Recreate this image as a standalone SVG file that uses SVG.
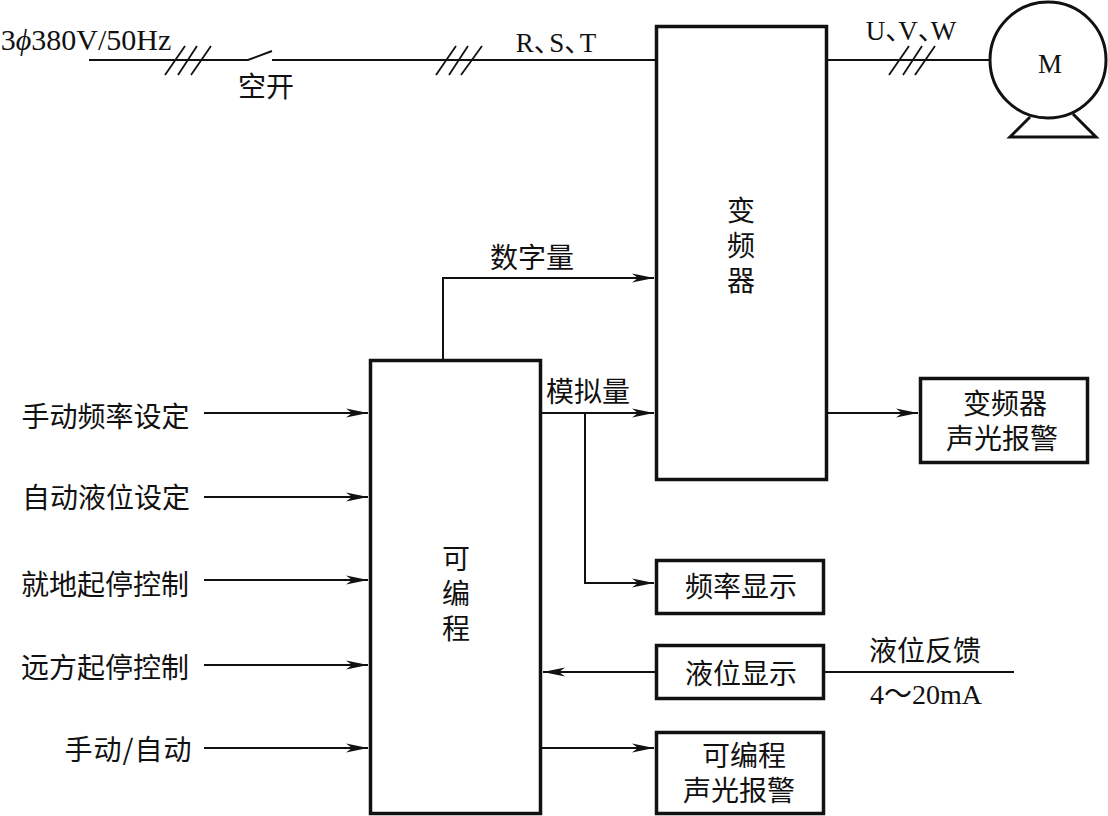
<svg xmlns="http://www.w3.org/2000/svg" width="1108" height="816" viewBox="0 0 1108 816">
<style>
.box{fill:#fff;stroke:#111;stroke-width:3.5}
.ln{fill:none;stroke:#111;stroke-width:2}
.tk{fill:none;stroke:#111;stroke-width:1.8}
.mt{fill:none;stroke:#111;stroke-width:3}
.ar{fill:none;stroke:#111;stroke-width:2;marker-end:url(#a)}
text{fill:#111;font-size:28px;font-family:"Noto Sans CJK SC","Liberation Serif",sans-serif;text-anchor:middle}
.la{font-family:"Liberation Serif","Noto Sans CJK SC",serif;font-size:27px}
.v{writing-mode:vertical-rl;text-anchor:start;letter-spacing:7px}
.d1{letter-spacing:-11.500px}
.d2{letter-spacing:-14px}
</style>
<defs><marker id="a" markerUnits="userSpaceOnUse" markerWidth="24" markerHeight="12" refX="22" refY="6" orient="auto"><path d="M0 1.5L22 6L0 10.500L6 6Z" fill="#111"/></marker></defs>
<rect width="1108" height="816" fill="#fff"/>
<g id="connectors">
<path class="ln" d="M89 60H248L272 51M272 60H656"/>
<path class="tk" d="M165 75L185 46M178 75L197 46M191 75L211 46M436 75L456 46M449 75L468 46M461 75L482 46"/>
<path class="ln" d="M827 60H990"/>
<path class="tk" d="M889 75L909 46M903 75L922 46M915 75L935 46"/>
<path class="ar" d="M443 360V278H654"/>
<path class="ar" d="M541 413H654"/>
<path class="ar" d="M585 413V583H654"/>
<path class="ar" d="M827 413H918"/>
<path class="ar" d="M204 413H368"/>
<path class="ar" d="M204 497H368"/>
<path class="ar" d="M204 580H368"/>
<path class="ar" d="M204 665H368"/>
<path class="ar" d="M204 748H368"/>
<path class="ar" d="M656 672H543"/>
<path class="ln" d="M824 672H1014"/>
<path class="ar" d="M541 748H654"/>
</g>
<g id="inverter"><rect class="box" x="656.500" y="26.500" width="170" height="453"/><text class="v" x="741" y="196">变频器</text></g>
<g id="plc"><rect class="box" x="370.500" y="360.500" width="170" height="453"/><text class="v" x="456" y="544">可编程</text></g>
<g id="motor"><circle class="mt" cx="1048" cy="60" r="58"/><path class="mt" d="M1030 117L1010 137H1096L1073 114"/><text class="la" x="1050" y="73">M</text></g>
<g id="inverter-alarm"><rect class="box" x="920.500" y="378.500" width="167" height="84"/><text><tspan x="1005" y="414">变频器</tspan><tspan x="1002" y="449">声光报警</tspan></text></g>
<g id="freq-display"><rect class="box" x="656.500" y="560.500" width="167" height="53"/><text x="741" y="597">频率显示</text></g>
<g id="level-display"><rect class="box" x="656.500" y="645.500" width="167" height="53"/><text x="741" y="684">液位显示</text></g>
<g id="plc-alarm"><rect class="box" x="656.500" y="732.500" width="167" height="81"/><text><tspan x="744" y="766">可编程</tspan><tspan x="739" y="801">声光报警</tspan></text></g>
<g id="labels">
<text class="la" x="86" y="50" style="font-size:30px"><tspan>3</tspan><tspan font-style="italic">ϕ</tspan><tspan>380V/50Hz</tspan></text>
<text x="266" y="97">空开</text>
<text class="la" x="556" y="52">R<tspan class="d1">、</tspan>S<tspan class="d1">、</tspan>T</text>
<text class="la" x="911" y="40">U<tspan class="d2">、</tspan>V<tspan class="d2">、</tspan>W</text>
<text x="532" y="268">数字量</text>
<text x="588" y="402">模拟量</text>
<text x="105.500" y="427">手动频率设定</text>
<text x="106" y="508">自动液位设定</text>
<text x="105" y="595">就地起停控制</text>
<text x="105" y="678">远方起停控制</text>
<text x="128" y="760" textLength="127">手动/自动</text>
<text x="925" y="661">液位反馈</text>
<text class="la" x="926" y="704" style="font-size:28px">4～20mA</text>
</g>
</svg>
